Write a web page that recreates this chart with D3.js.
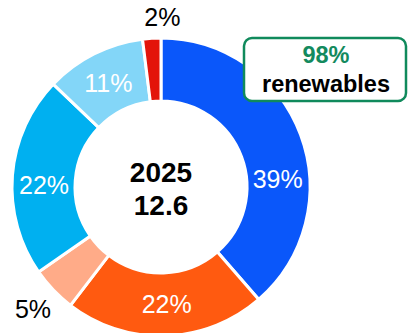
<!DOCTYPE html>
<html>
<head>
<meta charset="utf-8">
<script src="https://cdn.jsdelivr.net/npm/d3@7/dist/d3.min.js"></script>
<style>
  html, body { margin: 0; padding: 0; background: #fff; }
  svg { display: block; font-family: "Liberation Sans", Arial, sans-serif; }
</style>
</head>
<body>
<script>
// Electricity mix, share of each source (%)
const categories = ["Source A", "Source B", "Source C", "Source D", "Source E", "Non-renewable"];
const shares = [39, 22, 5, 22, 11, 2];
const colors = ["#0a57fa", "#ff5a10", "#ffab88", "#00b0f0", "#83d6f8", "#e3140a"];
const centerYear = "2025";
const centerTotal = "12.6";
const renewableShare = "98%";
const renewableLabel = "renewables";

const W = 408, H = 333;
const cx = 161, cy = 187;
const outerR = 149, innerR = 86;

// Label placement: radius (inside the ring or outside it) and angle nudges in degrees
const labelRadius = { "Source C": 177, "Non-renewable": 170 };
const nudge = { "Source A": 16.5, "Source D": -3.6, "Non-renewable": 4, "Source B": -1 };
const outsideNames = new Set(Object.keys(labelRadius));

const svg = d3.select("body").append("svg").attr("width", W).attr("height", H);
const g = svg.append("g").attr("transform", `translate(${cx},${cy})`);

const data = categories.map((c, i) => ({ name: c, value: shares[i], color: colors[i] }));
const pie = d3.pie().value(d => d.value).sort(null);
const arc = d3.arc().innerRadius(innerR).outerRadius(outerR);
const arcs = pie(data);

g.selectAll("path.slice")
  .data(arcs)
  .join("path")
  .attr("class", "slice")
  .attr("d", arc)
  .attr("fill", d => d.data.color)
  .attr("stroke", "#fff")
  .attr("stroke-width", 3)
  .attr("stroke-linejoin", "miter");

g.selectAll("text.pct")
  .data(arcs)
  .join("text")
  .attr("class", "pct")
  .each(function (d) {
    const isOut = outsideNames.has(d.data.name);
    const r = labelRadius[d.data.name] || 117;
    const a = (d.startAngle + d.endAngle) / 2 + ((nudge[d.data.name] || 0) * Math.PI / 180);
    d3.select(this)
      .attr("x", r * Math.sin(a))
      .attr("y", -r * Math.cos(a))
      .attr("fill", isOut ? "#000" : "#fff");
  })
  .attr("text-anchor", "middle")
  .attr("dominant-baseline", "central")
  .attr("font-size", 25)
  .text(d => d.value + "%");

// Center title
g.append("text")
  .attr("x", 0).attr("y", -5)
  .attr("text-anchor", "middle")
  .attr("font-size", 28).attr("font-weight", "bold")
  .text(centerYear);
g.append("text")
  .attr("x", 0).attr("y", 28)
  .attr("text-anchor", "middle")
  .attr("font-size", 28).attr("font-weight", "bold")
  .text(centerTotal);

// Renewables callout
const box = svg.append("g");
box.append("rect")
  .attr("x", 244).attr("y", 38)
  .attr("width", 162).attr("height", 63)
  .attr("rx", 8)
  .attr("fill", "#fff")
  .attr("stroke", "#108a5c")
  .attr("stroke-width", 2.5);
box.append("text")
  .attr("x", 326).attr("y", 63)
  .attr("text-anchor", "middle")
  .attr("font-size", 23.5).attr("font-weight", "bold")
  .attr("fill", "#138a5e")
  .text(renewableShare);
box.append("text")
  .attr("x", 326).attr("y", 92)
  .attr("text-anchor", "middle")
  .attr("font-size", 23.5).attr("font-weight", "bold")
  .attr("fill", "#000")
  .text(renewableLabel);
</script>
</body>
</html>
